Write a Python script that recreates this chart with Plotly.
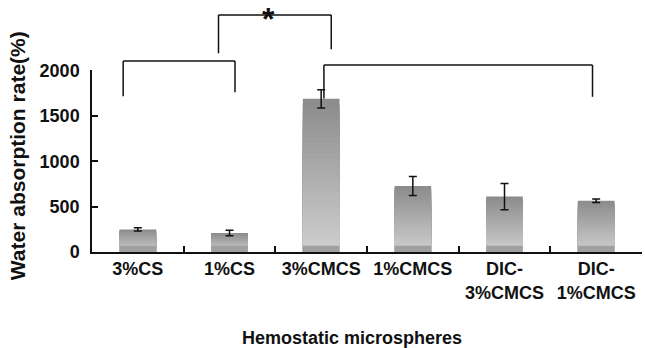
import plotly.graph_objects as go

categories = ["3%CS", "1%CS", "3%CMCS", "1%CMCS", "DIC-3%CMCS", "DIC-1%CMCS"]
tick_text = ["3%CS", "1%CS", "3%CMCS", "1%CMCS", "DIC-<br>3%CMCS", "DIC-<br>1%CMCS"]
values = [248, 210, 1687, 727, 610, 565]
errors = [18, 30, 100, 105, 145, 20]
y_ticks = [0, 500, 1000, 1500, 2000]

# significance brackets: (x_left, x_right, y_top, y_left_bottom, y_right_bottom)
brackets = [
    (-0.16, 1.06, 2103, 1716, 1760),
    (0.88, 2.11, 2611, 2188, 2232),
    (2.03, 4.96, 2059, 1690, 1709),
]

Y_AXIS_MAX = 2000   # visible value axis
Y_FULL_MAX = 2753   # full height incl. brackets area
FONT = "Liberation Sans, Arial, sans-serif"
fig = go.Figure()

N = 28
c_top, c_bot = 140, 206
for k in range(N):
    frac = 1 - k / N
    g = int(round(c_top + (c_bot - c_top) * k / (N - 1)))
    fig.add_trace(go.Bar(
        x=categories, y=[v * frac for v in values], width=0.4,
        marker=dict(color=f"rgb({g},{g},{g})", line=dict(width=0)),
        showlegend=False, hoverinfo="skip"))
# dark base band
fig.add_trace(go.Bar(
    x=categories, y=[min(70, v) for v in values], width=0.4,
    marker=dict(color="rgb(160,160,160)", line=dict(width=0)),
    showlegend=False, hoverinfo="skip"))
# error bars
fig.add_trace(go.Scatter(
    x=categories, y=values, mode="markers", marker=dict(opacity=0, size=1),
    error_y=dict(type="data", array=errors, color="#111", thickness=1.5, width=4),
    showlegend=False, hoverinfo="skip", cliponaxis=False))
# invisible trace to activate the full-height overlay subplot
fig.add_trace(go.Scatter(x=categories[:1], y=[0], yaxis="y2", mode="markers",
                         marker=dict(opacity=0, size=1), showlegend=False,
                         hoverinfo="skip"))

shapes = []
for xl, xr, yt, ylb, yrb in brackets:
    for (x0, x1, y0, y1) in [(xl, xr, yt, yt), (xl, xl, yt, ylb), (xr, xr, yt, yrb)]:
        shapes.append(dict(type="line", xref="x", yref="y2", x0=x0, x1=x1, y0=y0, y1=y1,
                           line=dict(color="#111", width=1.5)))

annotations = [
    dict(text="*", xref="x", yref="y2", x=1.43, y=2611, showarrow=False,
         font=dict(family=FONT, size=32, color="#111", weight="bold"),
         xanchor="center", yanchor="middle", yshift=-4),
    dict(text="Water absorption rate(%)", xref="paper", yref="paper",
         x=-0.136, y=0.384, textangle=-90, showarrow=False,
         font=dict(family=FONT, size=21, color="#111", weight="bold"),
         xanchor="center", yanchor="middle"),
    dict(text="Hemostatic microspheres", xref="paper", yref="paper",
         x=0.472, y=-0.345, showarrow=False,
         font=dict(family=FONT, size=18, color="#111", weight="bold"),
         xanchor="center", yanchor="middle"),
]

fig.update_layout(
    template="none",
    width=645, height=348,
    margin=dict(l=92, r=3, t=2, b=96),
    paper_bgcolor="white", plot_bgcolor="rgba(0,0,0,0)",
    barmode="overlay", bargap=0.6,
    shapes=shapes, annotations=annotations,
    xaxis=dict(type="category", categoryorder="array", categoryarray=categories,
               tickmode="array", tickvals=categories, ticktext=tick_text,
               tickson="boundaries", ticks="inside", ticklen=6, tickwidth=1.5,
               tickcolor="#111", showline=True, linecolor="#111", linewidth=1.5,
               showgrid=False, zeroline=False, range=[-0.5, 5.5], automargin=False,
               anchor="y",
               tickfont=dict(family=FONT, size=18, color="#111", weight="bold")),
    yaxis=dict(range=[0, Y_AXIS_MAX], domain=[0, Y_AXIS_MAX / Y_FULL_MAX],
               tickmode="array", tickvals=y_ticks,
               ticks="inside", ticklen=6, tickwidth=1.5, tickcolor="#111",
               showline=True, linecolor="#111", linewidth=1.5,
               showgrid=False, zeroline=False, automargin=False,
               ticklabelstandoff=7,
               tickfont=dict(family=FONT, size=18, color="#111", weight="bold")),
    yaxis2=dict(range=[0, Y_FULL_MAX], domain=[0, 1], anchor="x", visible=False,
                showgrid=False, zeroline=False, automargin=False),
)

fig.write_html("out.html", config={"displayModeBar": False},
               post_script="document.body.style.margin='0';document.body.style.overflow='hidden';")
